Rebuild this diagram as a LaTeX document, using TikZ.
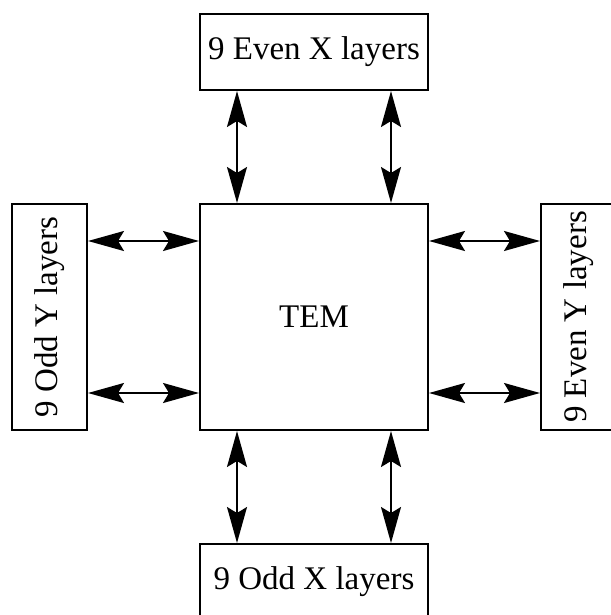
\documentclass[tikz,border=0pt]{standalone}
\usepackage{fontspec}
\setmainfont{Liberation Serif}
\usetikzlibrary{arrows.meta}
\begin{document}
\begin{tikzpicture}[x=1pt,y=-1pt,
  blk/.style={draw=black, line width=2pt, fill=white, inner sep=0pt, font=\fontsize{33}{40}\selectfont},
  arr/.style={line width=1.8pt, {Stealth[length=36pt,width=20pt,inset=6pt]}-{Stealth[length=36pt,width=20pt,inset=6pt]}}]
\useasboundingbox (0,0) rectangle (610,615);
\node[blk, minimum width=228pt, minimum height=76pt] (top) at (314,52) {9 Even X layers};
\node[blk, minimum width=228pt, minimum height=226pt] (tem) at (314,317) {TEM};
\node[blk, minimum width=228pt, minimum height=76pt] (bot) at (314,582) {9 Odd X layers};
\node[blk, minimum width=75pt, minimum height=226pt] (lft) at (49.5,317) {};
\node[rotate=90, font=\fontsize{33}{40}\selectfont] (lftt) at (lft.center) {9 Odd Y layers};
\node[blk, minimum width=75pt, minimum height=226pt] (rgt) at (578.5,317) {};
\node[rotate=90, font=\fontsize{33}{40}\selectfont] (rgtt) at (rgt.center) {9 Even Y layers};
\draw[arr] ([xshift=38pt]top.south west) -- ([xshift=38pt]tem.north west);
\draw[arr] ([xshift=-38pt]top.south east) -- ([xshift=-38pt]tem.north east);
\draw[arr] ([xshift=38pt]tem.south west) -- ([xshift=38pt]bot.north west);
\draw[arr] ([xshift=-38pt]tem.south east) -- ([xshift=-38pt]bot.north east);
\draw[arr] ([yshift=-38pt]lft.north east) -- ([yshift=-38pt]tem.north west);
\draw[arr] ([yshift=38pt]lft.south east) -- ([yshift=38pt]tem.south west);
\draw[arr] ([yshift=-38pt]tem.north east) -- ([yshift=-38pt]rgt.north west);
\draw[arr] ([yshift=38pt]tem.south east) -- ([yshift=38pt]rgt.south west);
\end{tikzpicture}
\end{document}
